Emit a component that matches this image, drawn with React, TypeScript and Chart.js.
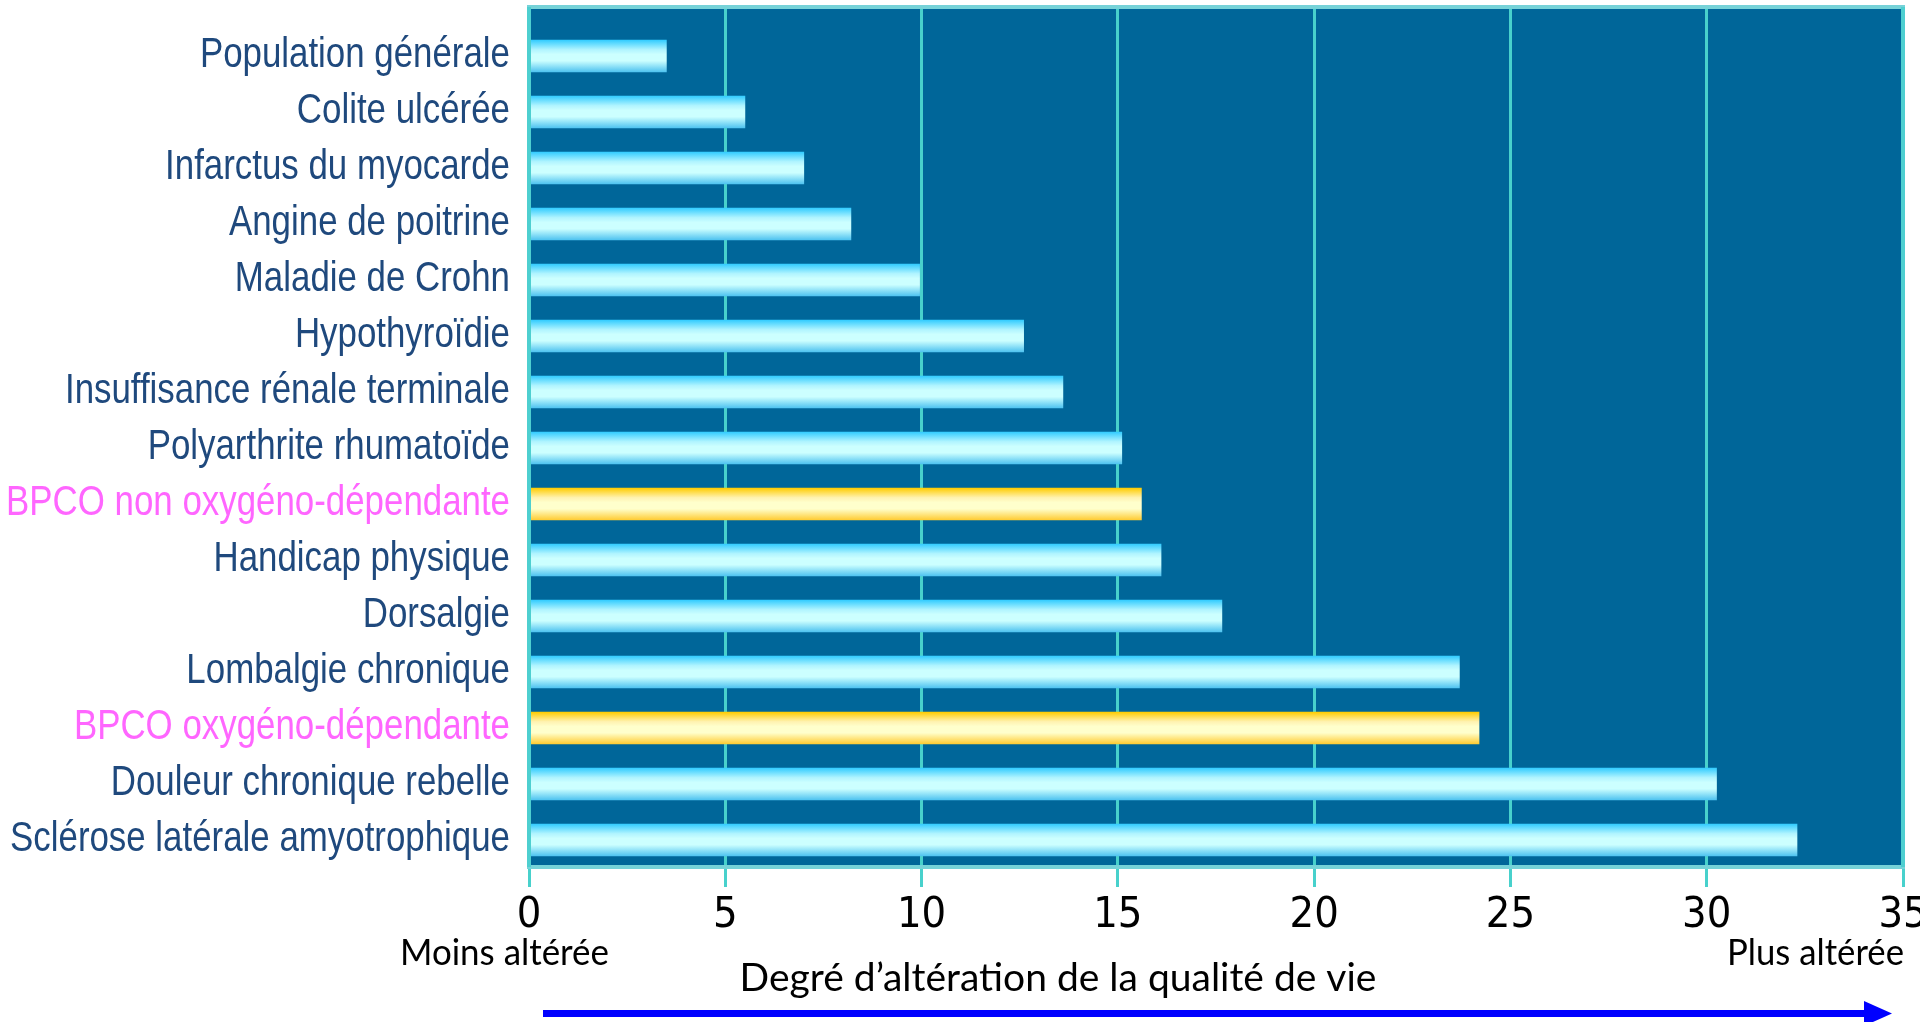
import React, { useEffect, useRef } from 'react';
import { Chart, registerables } from 'chart.js';

Chart.register(...registerables);

const categories = [
  'Population générale',
  'Colite ulcérée',
  'Infarctus du myocarde',
  'Angine de poitrine',
  'Maladie de Crohn',
  'Hypothyroïdie',
  'Insuffisance rénale terminale',
  'Polyarthrite rhumatoïde',
  'BPCO non oxygéno-dépendante',
  'Handicap physique',
  'Dorsalgie',
  'Lombalgie chronique',
  'BPCO oxygéno-dépendante',
  'Douleur chronique rebelle',
  'Sclérose latérale amyotrophique',
];

const values = [3.5, 5.5, 7.0, 8.2, 9.95, 12.6, 13.6, 15.1, 15.6, 16.1, 17.65, 23.7, 24.2, 30.25, 32.3];

const highlighted = [false, false, false, false, false, false, false, false, true, false, false, false, true, false, false];

const xMin = 0;
const xMax = 35;
const xStep = 5;

const axisTitle = 'Degré d’altération de la qualité de vie';
const leftNote = 'Moins altérée';
const rightNote = 'Plus altérée';

const ARIAL = "'Liberation Sans', Arial, sans-serif";
const CONDENSED = "'DejaVu Sans Condensed', 'Liberation Sans Narrow', sans-serif";
const HUMAN = "Lato, 'Open Sans', sans-serif";

export default function App() {
  const ref = useRef<HTMLCanvasElement | null>(null);

  useEffect(() => {
    const canvas = ref.current;
    if (!canvas) return;

    const framePlugin = {
      id: 'frame',
      beforeDraw(chart: any) {
        const { ctx, chartArea } = chart;
        if (!chartArea) return;
        ctx.save();
        ctx.fillStyle = '#006699';
        ctx.fillRect(chartArea.left, chartArea.top, chartArea.right - chartArea.left, chartArea.bottom - chartArea.top);
        ctx.restore();
      },
      afterDraw(chart: any) {
        const { ctx, chartArea } = chart;
        if (!chartArea) return;
        const { left, right, top, bottom } = chartArea;
        ctx.save();
        ctx.lineWidth = 4;
        ctx.strokeStyle = '#76D2D8';
        ctx.beginPath();
        ctx.moveTo(left - 2, top);
        ctx.lineTo(right + 2, top);
        ctx.moveTo(left - 2, bottom);
        ctx.lineTo(right + 2, bottom);
        ctx.stroke();
        ctx.strokeStyle = '#4ECFD0';
        ctx.beginPath();
        ctx.moveTo(left, top);
        ctx.lineTo(left, bottom);
        ctx.moveTo(right, top);
        ctx.lineTo(right, bottom);
        ctx.stroke();

        // category labels (narrow face emulated by horizontal condensation), placed by the y scale
        const yScale = chart.scales.y;
        ctx.font = `42px ${ARIAL}`;
        ctx.textAlign = 'right';
        ctx.textBaseline = 'middle';
        categories.forEach((label, i) => {
          const y = yScale.getPixelForValue(i) - 1;
          const w = ctx.measureText(label).width;
          ctx.fillStyle = highlighted[i] ? '#FF66FF' : '#1F497D';
          ctx.fillText(label, left - 19, y, w * 0.83);
        });

        // notes and axis title
        ctx.fillStyle = '#000000';
        ctx.textBaseline = 'alphabetic';
        ctx.font = `37px ${HUMAN}`;
        ctx.textAlign = 'left';
        ctx.fillText(leftNote, 400, 965, 209);
        ctx.textAlign = 'right';
        ctx.fillText(rightNote, 1904, 965, 177);
        ctx.font = `39px ${HUMAN}`;
        ctx.textAlign = 'center';
        ctx.fillText(axisTitle, 1058, 991, 644);

        // arrow
        ctx.fillStyle = '#0000FF';
        ctx.fillRect(543, 1010, 1324, 7);
        ctx.beginPath();
        ctx.moveTo(1864, 1001);
        ctx.lineTo(1892, 1013.5);
        ctx.lineTo(1864, 1026);
        ctx.closePath();
        ctx.fill();
        ctx.restore();
      },
    };

    const barFill = (c: any) => {
      const chart = c.chart;
      const yScale = chart.scales && chart.scales.y;
      const hl = highlighted[c.dataIndex];
      if (!chart.chartArea || !yScale) return hl ? '#FFEE88' : '#99EEFF';
      const yc = yScale.getPixelForValue(c.dataIndex);
      const g = chart.ctx.createLinearGradient(0, yc - 16, 0, yc + 16);
      if (hl) {
        g.addColorStop(0, '#FFCC00');
        g.addColorStop(0.3, '#FFF2B0');
        g.addColorStop(0.45, '#FFFFCC');
        g.addColorStop(0.65, '#FFFFCC');
        g.addColorStop(1, '#FFCC33');
      } else {
        g.addColorStop(0, '#33CCFF');
        g.addColorStop(0.3, '#B0F4FF');
        g.addColorStop(0.45, '#CCFFFF');
        g.addColorStop(0.65, '#CCFFFF');
        g.addColorStop(1, '#4FC3F0');
      }
      return g;
    };

    const chart = new Chart(canvas, {
      type: 'bar',
      data: {
        datasets: [
          {
            data: values.map((v, i) => ({ x: v, y: i })),
            backgroundColor: barFill,
            borderWidth: 0,
            barThickness: 32,
          },
        ],
      },
      options: {
        indexAxis: 'y',
        responsive: false,
        animation: false,
        devicePixelRatio: 1,
        layout: { padding: { top: 7, right: 17, left: 0, bottom: 0 } },
        plugins: { legend: { display: false }, tooltip: { enabled: false } },
        scales: {
          x: {
            type: 'linear',
            position: 'bottom',
            min: xMin,
            max: xMax,
            z: 1,
            afterFit: (s: any) => {
              s.height = 155;
              s.paddingLeft = 0;
              s.paddingRight = 0;
            },
            ticks: {
              stepSize: xStep,
              autoSkip: false,
              maxRotation: 0,
              padding: 3,
              color: '#000000',
              font: { family: CONDENSED, size: 43 },
            },
            grid: { color: '#48D1CC', lineWidth: 3, tickLength: 20, drawTicks: true },
            border: { display: false },
          },
          y: {
            type: 'linear',
            reverse: true,
            offset: false,
            min: -0.875,
            max: 14.482,
            afterBuildTicks: (s: any) => {
              s.ticks = categories.map((_, i) => ({ value: i }));
            },
            afterFit: (s: any) => {
              s.width = 529;
              s.paddingTop = 0;
              s.paddingBottom = 0;
            },
            grid: { display: false, drawTicks: false },
            border: { display: false },
            ticks: { display: false },
          },
        },
      },
      plugins: [framePlugin],
    } as any);

    return () => chart.destroy();
  }, []);

  return (
    <div style={{ position: 'absolute', left: 0, top: 0, width: 1920, height: 1022, background: '#ffffff' }}>
      <canvas ref={ref} width={1920} height={1022} style={{ display: 'block', width: 1920, height: 1022 }} />
    </div>
  );
}
